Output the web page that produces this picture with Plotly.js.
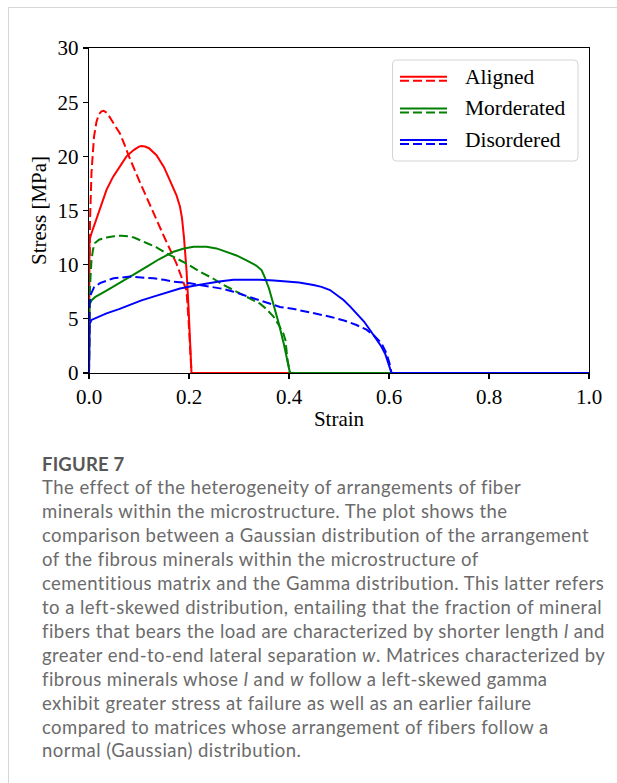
<!DOCTYPE html>
<html>
<head>
<meta charset="utf-8">
<script src="https://cdn.plot.ly/plotly-3.0.1.min.js"></script>
<style>
  html, body { margin: 0; padding: 0; background: #ffffff; }
  #page { position: relative; width: 617px; height: 783px; overflow: hidden; }
  #frame { position: absolute; left: 8px; top: 7px; width: 620px; height: 790px;
           border-top: 1px solid #d6d6d6; border-left: 1px solid #d6d6d6; }
  #chart { position: absolute; left: 0; top: 0; width: 617px; height: 783px; }
  .cap { position: absolute; left: 42px; width: 572px; white-space: nowrap;
         font-family: Lato, "Open Sans", sans-serif; }
  #caphead { top: 452px; font-size: 18.5px; line-height: 24px; font-weight: bold; color: #575757; letter-spacing: 0.2px; }
  #capbody { top: 476px; font-size: 18.5px; line-height: 23.95px; color: #6b6b6b; letter-spacing: 0.45px; }
</style>
</head>
<body>
<div id="page">
  <div id="frame"></div>
  <div id="chart"></div>
  <div id="caphead" class="cap">FIGURE 7</div>
  <div id="capbody" class="cap">The effect of the heterogeneity of arrangements of fiber<br>
minerals within the microstructure. The plot shows the<br>
comparison between a Gaussian distribution of the arrangement<br>
of the fibrous minerals within the microstructure of<br>
cementitious matrix and the Gamma distribution. This latter refers<br>
to a left-skewed distribution, entailing that the fraction of mineral<br>
fibers that bears the load are characterized by shorter length <i>l</i> and<br>
greater end-to-end lateral separation <i>w</i>. Matrices characterized by<br>
fibrous minerals whose <i>l</i> and <i>w</i> follow a left-skewed gamma<br>
exhibit greater stress at failure as well as an earlier failure<br>
compared to matrices whose arrangement of fibers follow a<br>
normal (Gaussian) distribution.</div>
</div>
<script>
// Stress-strain curves: solid = Gaussian arrangement, dashed = Gamma arrangement
const seriesNames = ['Aligned', 'Morderated', 'Disordered'];
const seriesColors = ['#ff0000', '#008000', '#0000ff'];

const strainAlignedNormal = [0, 0.001, 0.005, 0.015, 0.025, 0.035, 0.048, 0.062, 0.075, 0.09, 0.1, 0.105, 0.112, 0.12, 0.135, 0.15, 0.162, 0.175, 0.182, 0.186, 0.19, 0.195, 0.199, 0.203, 0.205, 1.0];
const stressAlignedNormal = [0, 12.3, 12.9, 14.2, 15.6, 16.9, 18.1, 19.1, 20.0, 20.6, 20.9, 20.95, 20.9, 20.75, 20.1, 19.0, 17.8, 16.4, 15.35, 14.3, 12.5, 9.5, 6.1, 2.5, 0, 0];

const strainAlignedGamma = [0, 0.002, 0.005, 0.01, 0.015, 0.02, 0.025, 0.029, 0.033, 0.037, 0.045, 0.053, 0.062, 0.07, 0.079, 0.1, 0.129, 0.15, 0.175, 0.195, 0.199, 0.203, 0.205, 1.0];
const stressAlignedGamma = [0, 14.0, 18.5, 21.8, 23.2, 23.9, 24.15, 24.2, 24.1, 23.95, 23.35, 22.8, 22.1, 21.2, 20.1, 17.8, 14.7, 12.6, 10.1, 7.6, 5.0, 2.0, 0, 0];

const strainModerateNormal = [0, 0.001, 0.005, 0.012, 0.035, 0.062, 0.09, 0.115, 0.14, 0.169, 0.19, 0.209, 0.235, 0.255, 0.275, 0.295, 0.315, 0.335, 0.345, 0.35, 0.36, 0.37, 0.38, 0.39, 0.397, 0.402, 1.0];
const stressModerateNormal = [0, 6.3, 6.7, 7.0, 7.6, 8.3, 9.1, 9.8, 10.5, 11.2, 11.5, 11.66, 11.66, 11.5, 11.2, 10.85, 10.4, 9.9, 9.5, 9.0, 7.8, 6.2, 4.5, 2.6, 1.2, 0, 0];

const strainModerateGamma = [0, 0.001, 0.003, 0.005, 0.008, 0.012, 0.02, 0.035, 0.05, 0.065, 0.078, 0.09, 0.115, 0.135, 0.155, 0.175, 0.195, 0.22, 0.249, 0.27, 0.295, 0.32, 0.342, 0.355, 0.369, 0.38, 0.389, 0.393, 0.397, 0.402, 1.0];
const stressModerateGamma = [0, 7.0, 8.8, 10.4, 11.4, 12.0, 12.3, 12.5, 12.62, 12.68, 12.62, 12.5, 12.0, 11.6, 11.05, 10.6, 10.1, 9.4, 8.7, 8.1, 7.5, 6.9, 6.4, 5.9, 5.2, 4.4, 3.6, 3.0, 1.2, 0, 0];

const strainDisorderNormal = [0, 0.001, 0.005, 0.015, 0.035, 0.06, 0.082, 0.105, 0.129, 0.155, 0.182, 0.21, 0.235, 0.26, 0.289, 0.32, 0.342, 0.37, 0.395, 0.42, 0.449, 0.465, 0.482, 0.495, 0.509, 0.522, 0.535, 0.55, 0.562, 0.575, 0.585, 0.593, 0.599, 0.603, 0.605, 1.0];
const stressDisorderNormal = [0, 4.5, 4.9, 5.1, 5.5, 5.9, 6.3, 6.7, 7.05, 7.4, 7.8, 8.05, 8.28, 8.45, 8.6, 8.62, 8.6, 8.55, 8.43, 8.35, 8.12, 7.95, 7.66, 7.25, 6.74, 6.15, 5.5, 4.75, 3.97, 3.15, 2.43, 1.7, 0.9, 0.4, 0, 0];

const strainDisorderGamma = [0, 0.001, 0.004, 0.01, 0.022, 0.049, 0.082, 0.105, 0.129, 0.15, 0.169, 0.202, 0.225, 0.249, 0.27, 0.289, 0.31, 0.329, 0.355, 0.382, 0.41, 0.435, 0.46, 0.482, 0.51, 0.535, 0.555, 0.569, 0.585, 0.595, 0.601, 0.605];
const stressDisorderGamma = [0, 6.3, 7.3, 7.9, 8.3, 8.74, 8.9, 8.85, 8.74, 8.6, 8.43, 8.28, 8.1, 7.97, 7.75, 7.5, 7.2, 6.9, 6.5, 6.1, 5.9, 5.66, 5.45, 5.2, 4.85, 4.43, 4.0, 3.5, 2.74, 1.8, 0.9, 0];

const xTicks = [0, 0.2, 0.4, 0.6, 0.8, 1.0];
const xTickText = ['0.0', '0.2', '0.4', '0.6', '0.8', '1.0'];
const yTicks = [0, 5, 10, 15, 20, 25, 30];

const curves = [
  [strainAlignedNormal, stressAlignedNormal, strainAlignedGamma, stressAlignedGamma],
  [strainModerateNormal, stressModerateNormal, strainModerateGamma, stressModerateGamma],
  [strainDisorderNormal, stressDisorderNormal, strainDisorderGamma, stressDisorderGamma]
];

const DASH = '9px,4px';
const serif = 'Liberation Serif, Times New Roman, serif';

const traces = [];
curves.forEach(function (c, i) {
  traces.push({ x: c[0], y: c[1], type: 'scatter', mode: 'lines', name: seriesNames[i],
    line: { color: seriesColors[i], width: 2 }, showlegend: false, hoverinfo: 'skip' });
  traces.push({ x: c[2], y: c[3], type: 'scatter', mode: 'lines', name: seriesNames[i],
    line: { color: seriesColors[i], width: 2, dash: DASH }, showlegend: false, hoverinfo: 'skip' });
});

// Plot area geometry in pixels
const W = 617, H = 783;
const M = { l: 89, r: 28, t: 48, b: 410 };
const PW = W - M.l - M.r, PH = H - M.t - M.b;
function px2x(p) { return (p - M.l) / PW; }
function px2y(p) { return (H - M.b - p) / PH; }

// Legend frame with rounded corners
const bx0 = px2x(392.5), bx1 = px2x(578), by1 = px2y(60), by0 = px2y(161);
const rx = 4 / PW, ry = 4 / PH;
const boxPath = 'M ' + (bx0 + rx) + ',' + by1 +
  ' L ' + (bx1 - rx) + ',' + by1 + ' Q ' + bx1 + ',' + by1 + ' ' + bx1 + ',' + (by1 - ry) +
  ' L ' + bx1 + ',' + (by0 + ry) + ' Q ' + bx1 + ',' + by0 + ' ' + (bx1 - rx) + ',' + by0 +
  ' L ' + (bx0 + rx) + ',' + by0 + ' Q ' + bx0 + ',' + by0 + ' ' + bx0 + ',' + (by0 + ry) +
  ' L ' + bx0 + ',' + (by1 - ry) + ' Q ' + bx0 + ',' + by1 + ' ' + (bx0 + rx) + ',' + by1 + ' Z';

const shapes = [{ type: 'path', xref: 'paper', yref: 'paper', path: boxPath,
  line: { color: '#d4d4d4', width: 1 }, fillcolor: 'rgba(255,255,255,0.85)', layer: 'above' }];
const annotations = [];

seriesNames.forEach(function (name, i) {
  const row = 78.7 + i * 31.7;
  shapes.push({ type: 'line', xref: 'paper', yref: 'paper', x0: px2x(400), x1: px2x(447),
    y0: px2y(row - 2), y1: px2y(row - 2), line: { color: seriesColors[i], width: 2 }, layer: 'above' });
  shapes.push({ type: 'line', xref: 'paper', yref: 'paper', x0: px2x(400), x1: px2x(447),
    y0: px2y(row + 2), y1: px2y(row + 2), line: { color: seriesColors[i], width: 2, dash: DASH }, layer: 'above' });
  annotations.push({ xref: 'paper', yref: 'paper', x: px2x(463), y: px2y(row - 2),
    xanchor: 'left', yanchor: 'middle', showarrow: false, text: name,
    font: { family: serif, size: 21.5, color: '#000000' } });
});

const layout = {
  width: W, height: H,
  margin: M,
  paper_bgcolor: 'rgba(0,0,0,0)', plot_bgcolor: 'rgba(0,0,0,0)',
  showlegend: false,
  font: { family: serif, size: 21, color: '#000000' },
  xaxis: {
    range: [0, 1], tickvals: xTicks, ticktext: xTickText,
    showline: true, mirror: true, linecolor: '#000000', linewidth: 1.2,
    ticks: 'outside', ticklen: 5, tickwidth: 1.2, tickcolor: '#000000',
    showgrid: false, zeroline: false,
    tickfont: { family: serif, size: 21, color: '#000000' },
    title: { text: 'Strain', font: { family: serif, size: 21, color: '#000000' }, standoff: 2 }
  },
  yaxis: {
    range: [0, 30], tickvals: yTicks,
    showline: true, mirror: true, linecolor: '#000000', linewidth: 1.2,
    ticks: 'outside', ticklen: 5, tickwidth: 1.2, tickcolor: '#000000',
    showgrid: false, zeroline: false,
    tickfont: { family: serif, size: 21, color: '#000000' },
    title: { text: 'Stress [MPa]', font: { family: serif, size: 21, color: '#000000' }, standoff: 5 }
  },
  shapes: shapes,
  annotations: annotations
};

Plotly.newPlot('chart', traces, layout, { staticPlot: true, displayModeBar: false });
</script>
</body>
</html>
